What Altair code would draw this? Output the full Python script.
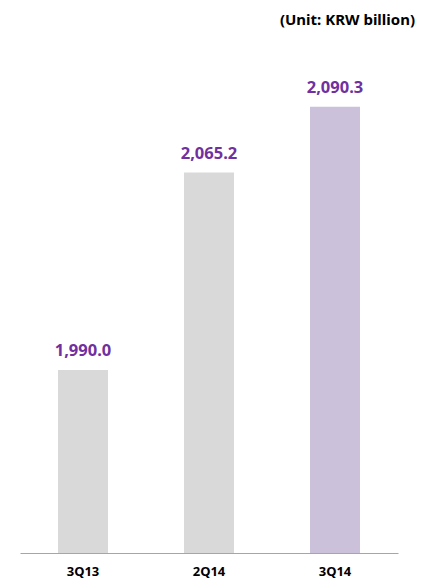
import altair as alt
import pandas as pd

categories = ["3Q13", "2Q14", "3Q14"]
values = [1990.0, 2065.2, 2090.3]
labels = ["1,990.0", "2,065.2", "2,090.3"]
bar_colors = ["#D9D9D9", "#D9D9D9", "#CCC1DA"]
unit_text = "(Unit: KRW billion)"
axis_min = 1920.3
axis_max = 2119.5

df = pd.DataFrame({"cat": categories, "val": values, "label": labels})

FONT = "Noto Sans"

x = alt.X("cat:N", sort=categories, title=None,
          scale=alt.Scale(paddingInner=0, paddingOuter=0),
          axis=alt.Axis(labelAngle=0, labelFont=FONT, labelFontSize=13,
                        labelFontWeight="bold", labelColor="#000000",
                        labelBaseline="alphabetic", labelPadding=22,
                        ticks=False, tickSize=0, domainColor="#A6A6A6",
                        domainWidth=1))
y = alt.Y("val:Q", title=None,
          scale=alt.Scale(domain=[axis_min, axis_max], nice=False, zero=False),
          axis=None)

bars = alt.Chart(df).mark_bar(size=50).encode(
    x=x, y=y, y2=alt.datum(axis_min),
    color=alt.Color("cat:N", scale=alt.Scale(domain=categories, range=bar_colors), legend=None),
)

text = alt.Chart(df).mark_text(font=FONT, fontSize=16.5, fontWeight="bold",
                               color="#7030A0", baseline="alphabetic", dy=-14).encode(
    x=alt.X("cat:N", sort=categories), y="val:Q", text="label:N")

title = alt.Chart(pd.DataFrame({"t": [unit_text]})).mark_text(
    font=FONT, fontSize=15, fontWeight="bold", color="#000000",
    align="right", baseline="alphabetic").encode(
    x=alt.value(395), y=alt.value(-5), text="t:N")

chart = alt.layer(bars, text, title).properties(
    width=378, height=523,
    autosize=alt.AutoSizeParams(type="none"),
    padding={"left": 12, "top": 22, "right": 19, "bottom": 26},
).configure_view(stroke=None)

chart.save("out.html", embed_options={"renderer": "svg", "actions": False})
